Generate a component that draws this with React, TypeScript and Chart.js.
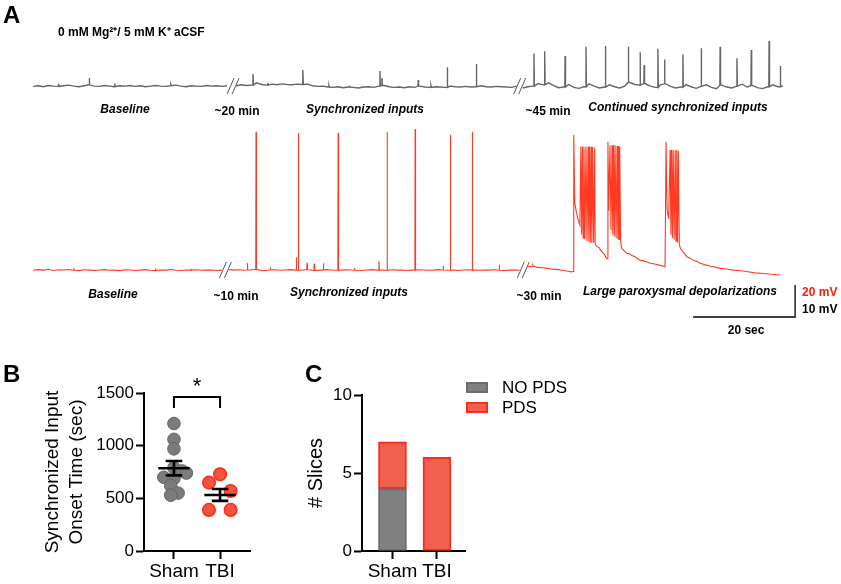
import React, { useEffect, useRef } from 'react';
import { Chart, registerables } from 'chart.js';
Chart.register(...registerables);

const FONT = '"Liberation Sans", Arial, Helvetica, sans-serif';

// ---------------- Panel A data (display time in s, membrane potential in mV) ----------------
const SAMPLE_DT = 1.0;
const GRAY_SEG_START = [0, 39.8, 96];
const GRAY_BASE_1 = [-65.1, -64.9, -65.2, -64.8, -65.0, -65.1, -64.9, -64.7, -65.0, -65.2, -64.9, -64.6, -65.0, -65.1, -64.8, -65.0, -65.2, -64.9, -65.0, -64.8, -65.1, -64.9, -65.2, -65.0, -64.8, -65.0, -65.1, -64.9, -64.7, -65.0, -65.2, -64.9, -65.0, -65.1, -64.8, -65.0, -64.9, -65.1, -64.9];
const GRAY_BASE_2 = [-64.9, -64.6, -64.8, -64.7, -64.0, -64.5, -64.7, -64.4, -64.6, -64.3, -64.5, -64.6, -64.4, -64.5, -64.4, -64.9, -65.1, -65.0, -65.3, -65.4, -65.2, -65.5, -65.3, -65.4, -65.6, -65.3, -65.2, -65.4, -65.0, -64.8, -65.2, -65.4, -65.3, -65.5, -65.2, -65.4, -65.0, -65.3, -65.4, -65.2, -65.3, -65.4, -65.0, -65.2, -65.3, -65.1, -65.3, -65.2, -64.9, -65.2, -65.3, -65.1, -65.2, -65.3, -65.4, -65.0];
const GRAY_BASE_3 = [-65.6, -65.2, -65.0, -64.2, -64.6, -64.0, -64.8, -65.5, -65.3, -64.5, -65.4, -65.7, -65.2, -64.3, -65.0, -65.6, -65.3, -64.6, -65.2, -65.6, -65.0, -63.9, -64.5, -64.7, -64.2, -65.0, -65.4, -64.6, -64.3, -65.1, -65.6, -65.3, -64.5, -65.2, -65.7, -65.1, -64.6, -65.4, -65.8, -64.7, -65.3, -65.6, -65.0, -64.4, -65.3, -64.8, -65.5, -65.8, -65.2, -64.6, -65.2, -64.9];
const GRAY_SPIKE_T = [5, 11.0, 16, 27, 43.1, 46, 52.9, 58, 62, 68.0, 68.4, 75.5, 78, 81.2, 86.9, 98.2, 100.3, 104.3, 108.4, 112.2, 116.7, 119.0, 119.8, 122.5, 123.8, 127.4, 131.0, 134.7, 138.0, 140.8, 144.3, 146.5];
const GRAY_SPIKE_MV = [-64.3, -62.5, -64.2, -64.5, -61.25, -64.0, -60.0, -64.8, -64.9, -60.3, -62.5, -63.1, -64.8, -59.1, -58.1, -54.8, -54.1, -55.6, -52.7, -52.5, -52.7, -54.4, -58.4, -53.3, -56.7, -55.1, -53.2, -52.7, -56.3, -53.75, -50.9, -58.75];
const GRAY_BREAKS = [39.2, 95.4];

const RED_SEG_START = [0, 38.4, 96.9];
const RED_BASE_1 = [-70.2, -69.8, -70.1, -69.6, -70.3, -69.9, -70.0, -69.7, -70.2, -70.4, -69.9, -70.1, -70.3, -70.0, -69.8, -70.2, -70.1, -70.4, -69.9, -70.0, -70.3, -70.1, -69.8, -70.2, -70.4, -70.0, -70.1, -69.7, -70.2, -70.3, -70.0, -70.1, -69.9, -70.2, -70.1, -70.0, -70.3, -70.1];
const RED_BASE_2 = [-69.8, -70.1, -69.9, -70.2, -70.0, -69.7, -70.1, -70.3, -70.0, -69.9, -70.2, -70.0, -69.8, -70.1, -70.2, -69.9, -70.0, -70.3, -70.1, -69.8, -70.0, -70.2, -70.1, -69.9, -70.0, -70.2, -70.3, -70.0, -69.8, -70.1, -70.0, -70.2, -69.9, -70.1, -70.0, -70.3, -70.1, -69.9, -70.0, -70.2, -70.1, -69.8, -70.0, -70.2, -70.1, -70.3, -70.0, -69.9, -70.1, -70.2, -70.0, -70.1, -69.9, -70.2, -70.3, -70.1, -70.0, -70.2];
const RED_BASE_3 = [-68.0, -67.6, -68.4, -68.6, -69.0, -69.5, -69.8, -70.3, -70.8];
const RED_SPIKE_T = [8, 24, 31, 42.0, 43.7, 46.5, 51.6, 52.0, 53.7, 55.1, 56.9, 59.8, 63, 67.8, 69.4, 74.9, 80.4, 81.8, 86.1, 91.4, 98.0];
const RED_SPIKE_MV = [-68.9, -69.0, -69.2, -65.6, 16.25, -68.5, -62.0, 15.6, -65.6, -66.0, -65.8, 15.6, -68.8, -64.4, 16.25, 18.1, -67.3, 14.4, 16.25, -66.9, -66.8];
const RED_PDS_T = [105.6, 105.9, 106.0, 106.2, 106.4, 106.8, 107.2, 107.4, 107.55, 107.7, 107.85, 108.0, 108.2, 108.4, 108.6, 108.8, 108.95, 109.1, 109.25, 109.4, 109.55, 109.7, 109.9, 110.1, 110.2, 110.6, 111.0, 111.2, 111.8, 112.1, 112.4, 112.6, 112.7, 112.85, 113.1, 113.3, 113.5, 113.65, 113.8, 113.95, 114.1, 114.3, 114.5, 114.65, 114.8, 114.9, 115.0, 115.2, 115.4, 115.9, 116.4, 117.0, 117.4, 118.0, 118.4, 119.0, 119.7, 120.3, 121.0, 121.7, 122.5, 123.2, 123.9, 124.1, 124.3, 124.6, 124.9, 125.05, 125.2, 125.35, 125.5, 125.7, 125.9, 126.05, 126.2, 126.35, 126.5, 126.7, 126.9, 127.5, 128.2, 128.8, 129.5, 130.2, 130.8, 131.8, 132.7, 133.7, 134.7, 136.0, 137.3, 138.6, 139.9, 141.5, 143.2, 144.8, 146.5];
const RED_PDS_MV = [-71.2, -71.0, 14.4, -28, -32, -38, -42, 7.1, -48, 7.1, -50, 7.0, -51, 7.1, -52, 7.0, -52, 7.1, -53, 7.0, -53, 6.8, -53, 6.5, -54, -55.5, -56.0, -57.5, -59.5, -60.8, -62.7, -63, 10.2, -33, 8.0, -45, 8.0, -48, 8.0, -49, 8.0, -50, 7.5, -51, 7.5, -51, 7.0, -53, -56.4, -58, -59.6, -60.0, -61.0, -61.8, -62.7, -63.9, -64.3, -64.8, -65.8, -66.1, -66.8, -67.3, -67.9, 10.2, -32.5, -38, 5.0, -48, 5.0, -50, 5.0, -51, 5.0, -52, 5.0, -53, 4.5, -54, -56.4, -59, -61.7, -62.6, -64, -64.7, -65.8, -66.8, -67.5, -68.1, -69.0, -69.4, -70.1, -70.5, -71.0, -71.8, -72.2, -72.7, -73.1];
const RED_BREAKS = [37.7, 96.1];

const SCALE_BAR_SEC = 20;
const SCALE_BAR_MV_RED = 20;
const SCALE_BAR_MV_GRAY = 10;

const A_GRAY_LABELS = ['Baseline', '~20 min', 'Synchronized inputs', '~45 min', 'Continued synchronized inputs'];
const A_RED_LABELS = ['Baseline', '~10 min', 'Synchronized inputs', '~30 min', 'Large paroxysmal depolarizations'];

// ---------------- Panel B data ----------------
const B_GROUPS = ['Sham', 'TBI'];
const SHAM_ONSET = [1210, 1060, 970, 790, 760, 740, 700, 690, 620, 550, 530];
const SHAM_JITTER = [0, 0, 0, 0, 0.18, 0.27, -0.22, 0.0, -0.07, 0.09, -0.07];
const TBI_ONSET = [728, 649, 570, 390, 390];
const TBI_JITTER = [0, -0.24, 0.23, -0.24, 0.23];
const B_MEANS = [786, 532];
const B_SEMS = [68, 56];

// ---------------- Panel C data ----------------
const C_GROUPS = ['Sham', 'TBI'];
const C_NO_PDS = [4, 0];
const C_PDS = [3, 6];

const GRAY = '#7b7b7b';
const RED = '#f0543f';

function buildTrace(starts: number[], bases: number[][], spikeT: number[], spikeMV: number[], tailT?: number[], tailMV?: number[]) {
  const out: { x: number; y: number | null }[] = [];
  starts.forEach((s, i) => {
    const samples = bases[i].map((v, k) => ({ x: s + k * SAMPLE_DT, y: v }));
    const segEnd = samples[samples.length - 1].x;
    const pts: { x: number; y: number }[] = [...samples];
    spikeT.forEach((t, j) => {
      if (t >= s && t <= segEnd + 0.6) {
        let near = samples[0];
        samples.forEach((p) => { if (Math.abs(p.x - t) < Math.abs(near.x - t)) near = p; });
        pts.push({ x: t - 0.05, y: near.y });
        pts.push({ x: t, y: spikeMV[j] });
        pts.push({ x: t + 0.08, y: near.y });
      }
    });
    if (i === starts.length - 1 && tailT && tailMV) {
      tailT.forEach((t, j) => pts.push({ x: t, y: tailMV[j] }));
    }
    pts.sort((a, b) => a.x - b.x);
    out.push(...pts);
    if (i < starts.length - 1) out.push({ x: pts[pts.length - 1].x + 0.01, y: null });
  });
  return out;
}

function PanelA() {
  const ref = useRef<HTMLCanvasElement>(null);
  useEffect(() => {
    const gray = buildTrace(GRAY_SEG_START, [GRAY_BASE_1, GRAY_BASE_2, GRAY_BASE_3], GRAY_SPIKE_T, GRAY_SPIKE_MV);
    const red = buildTrace(RED_SEG_START, [RED_BASE_1, RED_BASE_2, RED_BASE_3], RED_SPIKE_T, RED_SPIKE_MV, RED_PDS_T, RED_PDS_MV);
    const deco = {
      id: 'decoA',
      afterDraw(chart: any) {
        const ctx = chart.ctx;
        const xs = chart.scales.x, yG = chart.scales.yG, yR = chart.scales.yR;
        ctx.save();
        // break marks
        ctx.strokeStyle = '#555';
        ctx.lineWidth = 1;
        const drawBreak = (t: number, py: number) => {
          const cx = xs.getPixelForValue(t);
          for (const k of [-2.5, 2.5]) {
            ctx.beginPath();
            ctx.moveTo(cx + k - 3.5, py + 8);
            ctx.lineTo(cx + k + 3.5, py - 8);
            ctx.stroke();
          }
        };
        GRAY_BREAKS.forEach((t) => drawBreak(t, yG.getPixelForValue(-65)));
        RED_BREAKS.forEach((t) => drawBreak(t, yR.getPixelForValue(-70)));
        // scale bar
        const tEnd = 149.4, vBot = -99.4;
        const xr = xs.getPixelForValue(tEnd), xl = xs.getPixelForValue(tEnd - SCALE_BAR_SEC);
        const yb = yR.getPixelForValue(vBot), yt = yR.getPixelForValue(vBot + SCALE_BAR_MV_RED);
        ctx.strokeStyle = '#000';
        ctx.lineWidth = 1.3;
        ctx.beginPath();
        ctx.moveTo(xl, yb); ctx.lineTo(xr, yb); ctx.lineTo(xr, yt);
        ctx.stroke();
        // texts
        ctx.textBaseline = 'middle';
        ctx.fillStyle = '#000';
        ctx.font = `bold 24px ${FONT}`;
        ctx.textAlign = 'left';
        ctx.fillText('A', 3, 16);
        ctx.font = `bold 12px ${FONT}`;
        ctx.fillText('0 mM Mg²⁺/ 5 mM K⁺ aCSF', 58, 33);
        const gx = [125, 237, 365, 548, 678], gy = [110, 112, 110, 112, 108];
        const rx = [113, 236, 349, 539, 680], ry = [295, 297, 293, 297, 292];
        const ital = [true, false, true, false, true];
        ctx.textAlign = 'center';
        A_GRAY_LABELS.forEach((s, i) => {
          ctx.font = `${ital[i] ? 'italic ' : ''}bold 12px ${FONT}`;
          ctx.fillText(s, gx[i], gy[i]);
        });
        A_RED_LABELS.forEach((s, i) => {
          ctx.font = `${ital[i] ? 'italic ' : ''}bold 12px ${FONT}`;
          ctx.fillText(s, rx[i], ry[i]);
        });
        ctx.font = `bold 12px ${FONT}`;
        ctx.textAlign = 'left';
        ctx.fillStyle = '#ff1a0a';
        ctx.fillText(`${SCALE_BAR_MV_RED} mV`, xr + 7, yt + 8);
        ctx.fillStyle = '#000';
        ctx.fillText(`${SCALE_BAR_MV_GRAY} mV`, xr + 7, yt + 25);
        ctx.textAlign = 'center';
        ctx.fillText(`${SCALE_BAR_SEC} sec`, (xl + xr) / 2 + 2, yb + 14);
        ctx.restore();
      },
    };
    const chart = new Chart(ref.current!, {
      type: 'scatter',
      data: {
        datasets: [
          { data: gray as any, yAxisID: 'yG', borderColor: '#666666', borderWidth: 1.4, showLine: true, pointRadius: 0, spanGaps: false },
          { data: red as any, yAxisID: 'yR', borderColor: '#ff3a22', borderWidth: 1.1, showLine: true, pointRadius: 0, spanGaps: false },
        ],
      },
      options: {
        animation: false,
        responsive: false,
        events: [],
        layout: { padding: 0 },
        plugins: { legend: { display: false }, tooltip: { enabled: false } },
        elements: { line: { tension: 0 } },
        scales: {
          x: { type: 'linear', display: false, min: -6.5, max: 158.4 },
          yG: { type: 'linear', display: false, min: -145.9, max: -38.1 },
          yR: { type: 'linear', display: false, min: -116.9, max: 98.75 },
        },
      },
      plugins: [deco],
    });
    return () => chart.destroy();
  }, []);
  return <canvas ref={ref} width={841} height={345} style={{ position: 'absolute', left: 0, top: 0 }} />;
}

const axisCommon = {
  grid: { drawOnChartArea: false, tickLength: 8, tickWidth: 2, tickColor: '#000', offset: false },
  border: { color: '#000', width: 2 },
};

function PanelB() {
  const ref = useRef<HTMLCanvasElement>(null);
  useEffect(() => {
    const deco = {
      id: 'decoB',
      afterDatasetsDraw(chart: any) {
        const ctx = chart.ctx;
        const xs = chart.scales.x, ys = chart.scales.y;
        ctx.save();
        ctx.strokeStyle = '#000';
        ctx.lineWidth = 2.6;
        B_MEANS.forEach((m, i) => {
          const c = i + 1;
          const ym = ys.getPixelForValue(m);
          const yh = ys.getPixelForValue(m + B_SEMS[i]);
          const yl = ys.getPixelForValue(m - B_SEMS[i]);
          ctx.beginPath();
          ctx.moveTo(xs.getPixelForValue(c - 0.34), ym); ctx.lineTo(xs.getPixelForValue(c + 0.34), ym);
          ctx.moveTo(xs.getPixelForValue(c), yh); ctx.lineTo(xs.getPixelForValue(c), yl);
          ctx.moveTo(xs.getPixelForValue(c - 0.18), yh); ctx.lineTo(xs.getPixelForValue(c + 0.18), yh);
          ctx.moveTo(xs.getPixelForValue(c - 0.18), yl); ctx.lineTo(xs.getPixelForValue(c + 0.18), yl);
          ctx.stroke();
        });
        // significance bracket
        ctx.lineWidth = 2;
        const yTop = ys.getPixelForValue(1463), yDrop = ys.getPixelForValue(1358);
        const x1 = xs.getPixelForValue(1), x2 = xs.getPixelForValue(2);
        ctx.beginPath();
        ctx.moveTo(x1, yDrop); ctx.lineTo(x1, yTop); ctx.lineTo(x2, yTop); ctx.lineTo(x2, yDrop);
        ctx.stroke();
        ctx.fillStyle = '#000';
        ctx.textAlign = 'center';
        ctx.textBaseline = 'alphabetic';
        ctx.font = `22px ${FONT}`;
        ctx.fillText('*', (x1 + x2) / 2, yTop - 4);
        ctx.font = `bold 24px ${FONT}`;
        ctx.textAlign = 'left';
        ctx.fillText('B', 3, 22);
        ctx.restore();
      },
    };
    const chart = new Chart(ref.current!, {
      type: 'scatter',
      data: {
        datasets: [
          { data: SHAM_ONSET.map((v, i) => ({ x: 1 + SHAM_JITTER[i], y: v })), backgroundColor: GRAY, borderColor: '#666', borderWidth: 1, pointRadius: 6.3 },
          { data: TBI_ONSET.map((v, i) => ({ x: 2 + TBI_JITTER[i], y: v })), backgroundColor: RED, borderColor: '#ff2a18', borderWidth: 1.5, pointRadius: 6.3 },
        ],
      },
      options: {
        animation: false,
        responsive: false,
        events: [],
        layout: { padding: { left: 0, top: 33, right: 20, bottom: 0 } },
        plugins: { legend: { display: false }, tooltip: { enabled: false } },
        scales: {
          x: {
            type: 'linear', min: 0.35, max: 2.65, offset: false,
            afterBuildTicks: (s: any) => { s.ticks = [{ value: 1 }, { value: 2 }]; },
            afterFit: (s: any) => { s.height = 33; },
            ticks: { callback: (v: any) => B_GROUPS[Number(v) - 1], font: { family: FONT, size: 19 }, color: '#000', padding: 1, maxRotation: 0 },
            ...axisCommon,
          },
          y: {
            type: 'linear', min: 0, max: 1500,
            afterFit: (s: any) => { s.width = 144; },
            ticks: { stepSize: 500, callback: (v: any) => String(v), font: { family: FONT, size: 17 }, color: '#000', padding: 2 },
            title: { display: true, text: ['Synchronized Input', 'Onset Time (sec)'], font: { family: FONT, size: 19, lineHeight: 1.25 }, color: '#000', padding: { top: 41, bottom: 0 } },
            ...axisCommon,
          },
        },
      },
      plugins: [deco],
    });
    return () => chart.destroy();
  }, []);
  return <canvas ref={ref} width={270} height={224} style={{ position: 'absolute', left: 0, top: 360 }} />;
}

function PanelC() {
  const ref = useRef<HTMLCanvasElement>(null);
  useEffect(() => {
    const deco = {
      id: 'decoC',
      afterDraw(chart: any) {
        const ctx = chart.ctx;
        ctx.save();
        const ds = chart.data.datasets;
        ds.forEach((d: any, i: number) => {
          const y = 22 + i * 20;
          ctx.fillStyle = d.backgroundColor;
          ctx.fillRect(186, y, 22, 11);
          ctx.strokeStyle = d.borderColor;
          ctx.lineWidth = 2;
          ctx.strokeRect(187, y + 1, 20, 9);
          ctx.fillStyle = '#000';
          ctx.font = `17px ${FONT}`;
          ctx.textAlign = 'left';
          ctx.textBaseline = 'middle';
          ctx.fillText(d.label, 222, y + 6);
        });
        ctx.font = `bold 24px ${FONT}`;
        ctx.textBaseline = 'alphabetic';
        ctx.fillText('C', 25, 22);
        ctx.restore();
      },
    };
    const chart = new Chart(ref.current!, {
      type: 'bar',
      data: {
        datasets: [
          { label: 'NO PDS', data: C_NO_PDS.map((v, i) => ({ x: i + 1, y: v })).filter((p) => p.y > 0), backgroundColor: '#808080', borderColor: '#6c6c6c', borderWidth: 2, borderSkipped: false, barThickness: 28 },
          { label: 'PDS', data: C_PDS.map((v, i) => ({ x: i + 1, y: v })), backgroundColor: '#f0604e', borderColor: '#ff2b1a', borderWidth: 2, borderSkipped: false, barThickness: 28 },
        ],
      },
      options: {
        animation: false,
        responsive: false,
        events: [],
        layout: { padding: { left: 0, top: 35, right: 145, bottom: 0 } },
        plugins: { legend: { display: false }, tooltip: { enabled: false } },
        scales: {
          x: {
            type: 'linear', min: 0.315, max: 2.63, offset: false, stacked: true,
            afterBuildTicks: (s: any) => { s.ticks = [{ value: 1 }, { value: 2 }]; },
            afterFit: (s: any) => { s.height = 33; },
            ticks: { callback: (v: any) => C_GROUPS[Number(v) - 1], font: { family: FONT, size: 19 }, color: '#000', padding: 1, maxRotation: 0 },
            ...axisCommon,
          },
          y: {
            type: 'linear', min: 0, max: 10, stacked: true,
            afterFit: (s: any) => { s.width = 82; },
            ticks: { stepSize: 5, callback: (v: any) => String(v), font: { family: FONT, size: 17 }, color: '#000', padding: 2 },
            title: { display: true, text: '# Slices', font: { family: FONT, size: 20, lineHeight: 1.25 }, color: '#000', padding: { top: 24, bottom: 0 } },
            ...axisCommon,
          },
        },
      },
      plugins: [deco],
    });
    return () => chart.destroy();
  }, []);
  return <canvas ref={ref} width={330} height={224} style={{ position: 'absolute', left: 280, top: 360 }} />;
}

export default function App() {
  return (
    <div style={{ position: 'absolute', left: 0, top: 0, width: 841, height: 584, background: '#fff', overflow: 'hidden' }}>
      <PanelA />
      <PanelB />
      <PanelC />
    </div>
  );
}
